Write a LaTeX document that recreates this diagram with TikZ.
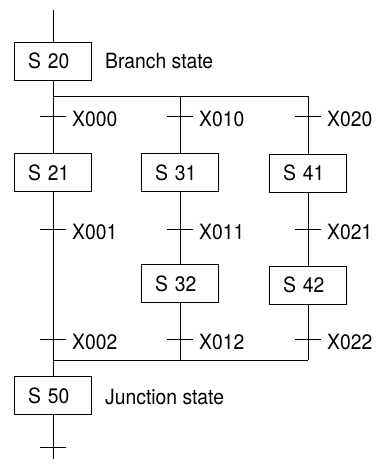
\documentclass[tikz,border=0pt]{standalone}
\usepackage{fontspec}
\setmainfont{TeX Gyre Heros}[FakeStretch=0.92]
\begin{document}
\begin{tikzpicture}[x=1pt,y=-1pt,
  every node/.style={font=\fontsize{21}{24}\selectfont},
  wire/.style={line width=0.8pt},
  stbox/.style={draw, line width=0.8pt, minimum width=77pt, minimum height=38pt,
    inner xsep=13.5pt, inner ysep=0pt, text width=50pt, align=left},
  lbl/.style={anchor=base west, inner sep=0pt}]
\useasboundingbox (0,0) rectangle (379,469);
% states
\node[stbox] (s20) at (53,61) {S 20};
\node[lbl] (l20) at (105,68) {Branch state};
\node[stbox] (s21) at (53,172.5) {S 21};
\node[stbox] (s31) at (180,172.5) {S 31};
\node[stbox] (s41) at (308,173) {S 41};
\node[stbox] (s32) at (180,283.5) {S 32};
\node[stbox] (s42) at (308,285) {S 42};
\node[stbox] (s50) at (53,395.5) {S 50};
\node[lbl] (l50) at (105,404) {Junction state};
% coordinates
\coordinate (top) at (53,10);
\coordinate (b1) at (53,96);
\coordinate (b2) at (180,96);
\coordinate (b3) at (308,96);
\coordinate (j1) at (53,360);
\coordinate (j2) at (180,360);
\coordinate (j3) at (308,360);
\coordinate (bot) at (53,459);
\coordinate (t1a) at (53,116);
\coordinate (t2a) at (180,116);
\coordinate (t3a) at (308,116);
\coordinate (t1b) at (53,229);
\coordinate (t2b) at (180,229);
\coordinate (t3b) at (308,229);
\coordinate (t1c) at (53,339);
\coordinate (t2c) at (180,339);
\coordinate (t3c) at (308,339);
\coordinate (t0) at (53,447);
% connectors
\draw[wire] (top) -- (s20.north);
\draw[wire] (s20.south) -- (b1) -- (b3);
\draw[wire] (b1) -- (s21.north);
\draw[wire] (b2) -- (s31.north);
\draw[wire] (b3) -- (s41.north);
\draw[wire] (s21.south) -- (j1);
\draw[wire] (s31.south) -- (s32.north);
\draw[wire] (s41.south) -- (s42.north);
\draw[wire] (s32.south) -- (j2);
\draw[wire] (s42.south) -- (j3);
\draw[wire] (j1) -- (j3);
\draw[wire] (j1) -- (s50.north);
\draw[wire] (s50.south) -- (bot);
% transition ticks
\foreach \t in {t1a,t2a,t3a,t1b,t2b,t3b,t1c,t2c,t3c,t0}
  \draw[wire] ([xshift=-13pt]\t) -- ([xshift=13pt]\t);
% transition labels
\node[lbl] (x000) at (72,126) {X000};
\node[lbl] (x010) at (199,126) {X010};
\node[lbl] (x020) at (327,126) {X020};
\node[lbl] (x001) at (72,239) {X001};
\node[lbl] (x011) at (199,239) {X011};
\node[lbl] (x021) at (327,239) {X021};
\node[lbl] (x002) at (72,349) {X002};
\node[lbl] (x012) at (199,349) {X012};
\node[lbl] (x022) at (327,349) {X022};
\end{tikzpicture}
\end{document}
